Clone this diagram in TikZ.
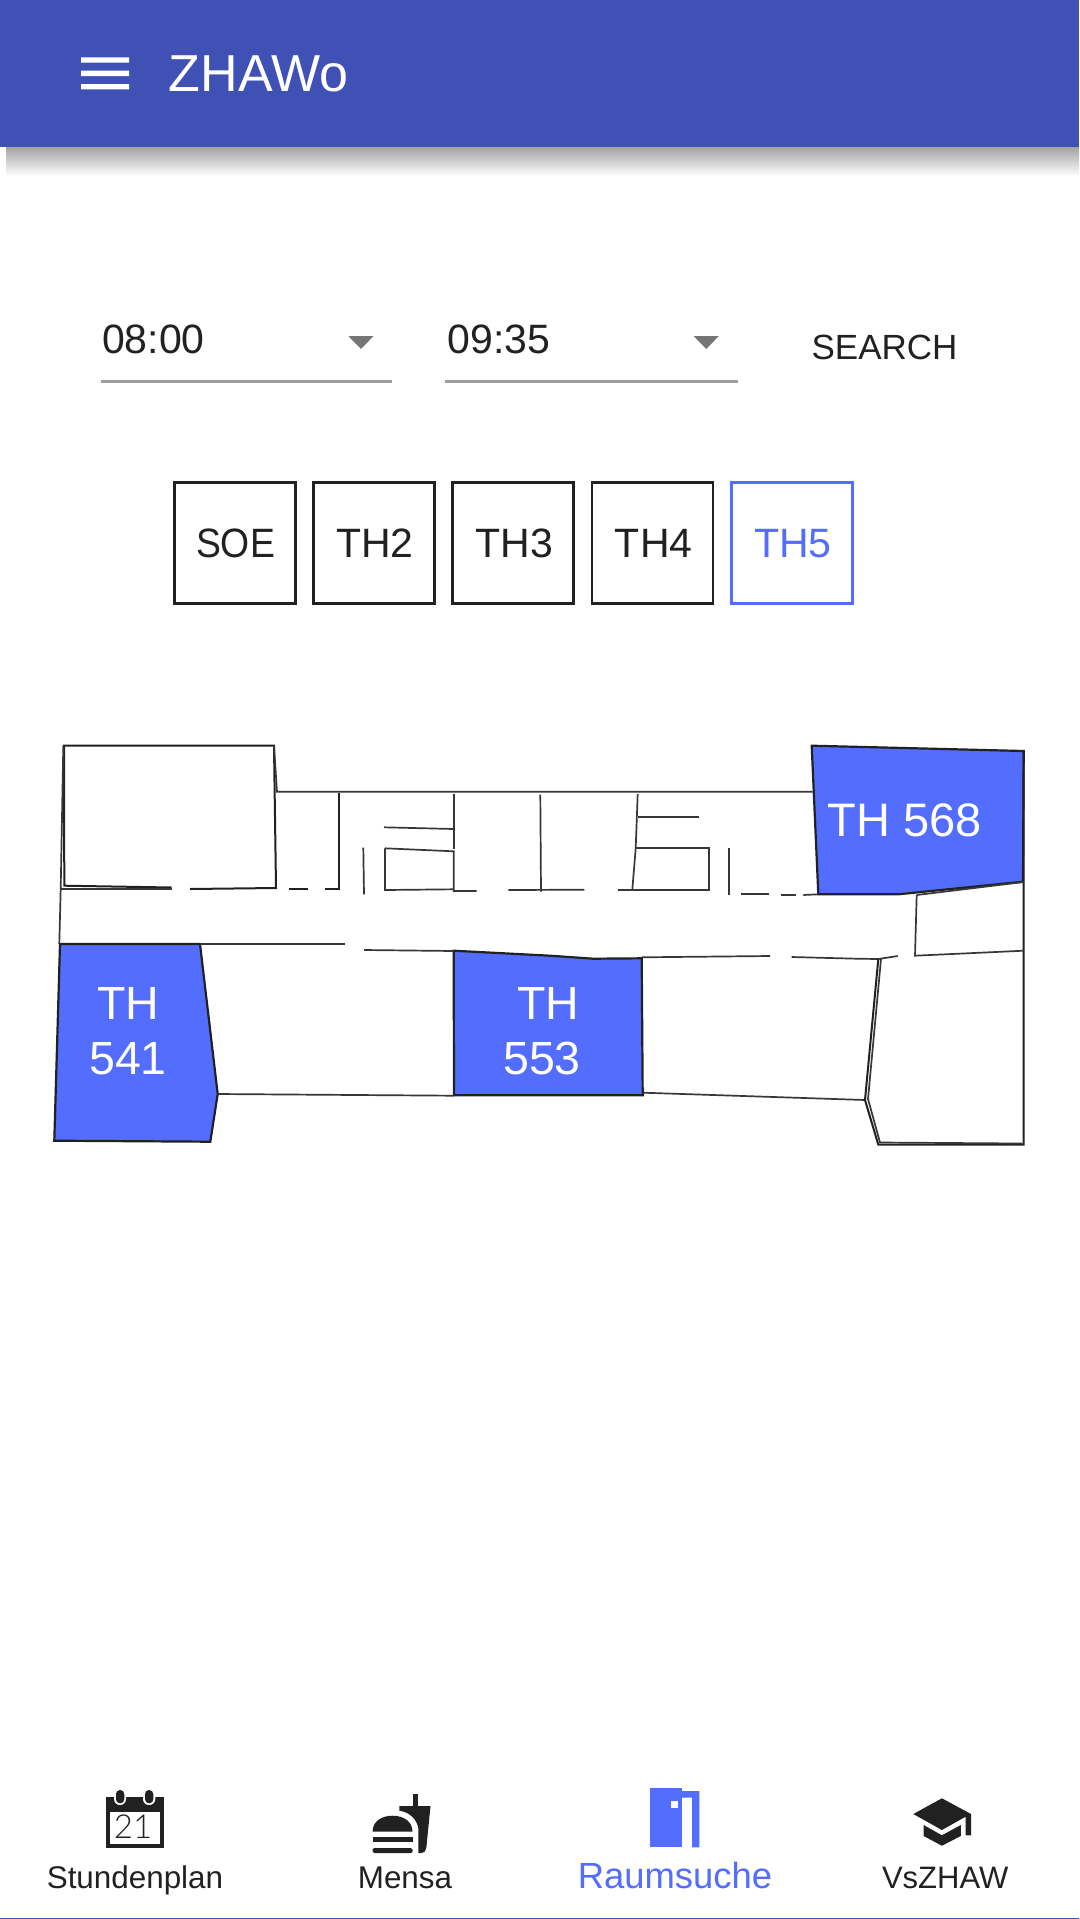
\documentclass[tikz,border=0pt]{standalone}
\usepackage{fontspec}
\setmainfont{Liberation Sans}
\newfontfamily\narrowfont[FakeStretch=0.91]{Liberation Sans}
\newfontfamily\thinfont{Lato Light}
\definecolor{bar}{HTML}{3F51B5}
\definecolor{accent}{HTML}{536DFE}
\definecolor{ink}{HTML}{212121}
\definecolor{under}{HTML}{9E9E9E}
\definecolor{caret}{HTML}{757575}
\tikzset{
  lbl/.style={font=\fontsize{#1}{#1}\selectfont, inner sep=0pt, outer sep=0pt, anchor=base, text=ink},
  tabbox/.style={draw=ink, line width=2.8pt, fill=white, minimum width=121pt, minimum height=121pt, inner sep=0pt},
  wall/.style={draw=ink, line width=2pt, line join=miter},
  thinwall/.style={draw=ink!90, line width=1.7pt},
  hit/.style={fill=accent, draw=ink, line width=2.2pt},
  whitelbl/.style={lbl=#1, text=white},
}
\begin{document}
\begin{tikzpicture}[x=1pt,y=-1pt]
\useasboundingbox (0,0) rectangle (1079,1919);
\fill[white] (0,0) rectangle (1079,1919);
% app bar
\shade[top color=black!36, middle color=black!9, bottom color=white] (6,147) rectangle (1079,176);
\fill[bar] (0,0) rectangle (1079,147);
\fill[white] (81,57.3) rectangle (129,62.7) (81,70.7) rectangle (129,76) (81,84) rectangle (129,89.3);
\node[whitelbl=52] (title) at (258.5,91.7) {ZHAWo};
% selects
\node[lbl=41] (from) at (153.5,353) {08:00};
\node[lbl=41] (to) at (499,353) {09:35};
\fill[caret] (348.3,336) -- (373.6,336) -- (361,349) -- cycle;
\fill[caret] (693.6,336) -- (718.9,336) -- (706.2,349) -- cycle;
\draw[under, line width=2.5pt] (101,381.7) -- (392.4,381.7);
\draw[under, line width=2.5pt] (445.3,381.7) -- (737.7,381.7);
\node[lbl=35] (search) at (884.5,359.5) {SEARCH};
% tabs
\node[tabbox] (soe) at (234.9,543) {};
\node[tabbox] (th2) at (374.1,543) {};
\node[tabbox] (th3) at (513.3,543) {};
\node[tabbox] (th4) at (652.5,543) {};
\node[tabbox, draw=accent] (th5) at (791.7,543) {};
\node[lbl=41, font=\fontsize{41}{41}\narrowfont] (soet) at (235.5,557.7) {SOE};
\node[lbl=41] (th2t) at (375,557.7) {TH2};
\node[lbl=41] (th3t) at (514.5,557.7) {TH3};
\node[lbl=41] (th4t) at (653.7,557.7) {TH4};
\node[lbl=41, text=accent] (th5t) at (792.9,557.7) {TH5};
% plan: highlighted rooms
\draw[hit] (60,944) -- (200,944) -- (217.7,1094) -- (210.3,1141.7) -- (54.3,1140.7) -- cycle;
\draw[hit] (453.7,950.7) -- (550,955.7) -- (593.3,958.7) -- (641.7,958.3) -- (642.7,1095.3) -- (454,1095.3) -- cycle;
\draw[hit] (811.7,745.7) -- (1023.7,751) -- (1023,881.7) -- (898.3,894.3) -- (818.3,894.3) -- cycle;
% plan: walls
\draw[wall] (190,889) -- (276,888) -- (274,745.7) -- (64,745.7) -- (64.3,885.7) -- (171.7,887.5);
\draw[thinwall] (274,745.7) -- (277,791.7) -- (812.7,791.7);
\draw[thinwall] (63.3,745.7) -- (60.7,889) -- (59.3,944);
\draw[thinwall] (60.7,889) -- (171.7,889);
\draw[wall] (289.3,889.3) -- (308.3,889.3);
\draw[wall] (325,889) -- (339.3,889) -- (339.3,792.7);
\draw[thinwall] (363.3,847.7) -- (364,894.3);
\draw[thinwall] (384,827.3) -- (453.7,829);
\draw[thinwall] (453.7,794) -- (453.7,849);
\draw[thinwall] (385,848.3) -- (453.7,851.3) -- (453.7,891) -- (476.7,891);
\draw[thinwall] (385,848.3) -- (385,890) -- (453.7,889.3);
\draw[thinwall] (508.3,890) -- (584.3,889.7);
\draw[thinwall] (540.3,794.7) -- (541,891.7);
\draw[thinwall] (637.7,794) -- (635.7,848.3) -- (632.3,889.7);
\draw[thinwall] (637.7,817) -- (699,817);
\draw[thinwall] (635.7,848.3) -- (709,848.3) -- (709,890) -- (617.7,890);
\draw[thinwall] (729,847.7) -- (729,895);
\draw[thinwall] (741,894.3) -- (769,894.3);
\draw[thinwall] (781,895) -- (795.7,895);
\draw[thinwall] (803.3,895) -- (818.3,894.3);
\draw[thinwall] (200,944) -- (345,944);
\draw[thinwall] (364,950) -- (453.7,951);
\draw[thinwall] (217.7,1094) -- (453.7,1095.7);
\draw[thinwall] (641.7,957.3) -- (770,956);
\draw[thinwall] (791.7,957) -- (856.7,958.7) -- (878.3,959) -- (897.7,956);
\draw[thinwall] (643.3,1092.7) -- (865,1100);
\draw[wall] (878.3,959) -- (865,1100) -- (878.3,1144.7) -- (1023.7,1144.7) -- (1023.7,751);
\draw[thinwall] (881,959) -- (868,1099) -- (880,1142.5) -- (1022,1143.5);
\draw[thinwall] (916.7,895) -- (1023.7,882);
\draw[thinwall] (916.7,895) -- (915,955.7) -- (1023.7,950.7);
\node[whitelbl=46.5] (r541a) at (128,1019) {TH};
\node[whitelbl=46.5] (r541b) at (128,1074) {541};
\node[whitelbl=46.5] (r553a) at (548,1019) {TH};
\node[whitelbl=46.5] (r553b) at (542,1074) {553};
\node[whitelbl=47] (r568) at (904.5,836.7) {TH 568};
% calendar icon
\fill[ink] (106,1797.3) rectangle (163.6,1848.3);
\fill[white] (110.2,1811.7) rectangle (159.6,1844.3);
\fill[white, rounded corners=6pt] (114,1786) rectangle (126,1805);
\fill[white, rounded corners=6pt] (143,1786) rectangle (155.3,1805);
\fill[white] (110,1780) rectangle (160,1797.3);
\fill[ink, rounded corners=4pt] (116,1790) rectangle (124.3,1803.3);
\fill[ink, rounded corners=4pt] (145,1790) rectangle (153.3,1803.3);
\node[lbl=33, font=\fontsize{33}{33}\thinfont] (day) at (133,1838.3) {21};
% burger icon
\fill[ink] (372.6,1831.7) .. controls (372.6,1821) and (382,1815.7) .. (392.5,1815.7) .. controls (403,1815.7) and (412.5,1821) .. (412.5,1831.7) -- cycle;
\fill[ink] (372.6,1837.3) rectangle (412.5,1842.3);
\fill[ink, rounded corners=1.5pt] (372.6,1848) -- (412.5,1848) -- (412.5,1853) -- (372.6,1853) -- cycle;
\fill[ink] (412.5,1794.3) rectangle (417.7,1806);
\fill[ink] (399.4,1806) -- (430.5,1806) -- (426.3,1848) .. controls (426,1851) and (424,1853) .. (421.5,1853) -- (418.4,1853) -- (418.4,1828.3) .. controls (417,1820) and (410,1812) .. (399.4,1810.7) -- cycle;
% door icon
\fill[accent] (649.5,1787.7) rectangle (681.9,1847.3);
\fill[accent] (681.9,1791) -- (699.4,1791) -- (699.4,1847.3) -- (692.2,1847.3) -- (692.2,1797.7) -- (681.9,1797.7) -- cycle;
\fill[white] (671.2,1801) rectangle (678,1807.7);
% cap icon
\fill[ink] (941.9,1798.3) -- (971,1814) -- (971,1835.3) -- (965.6,1835.3) -- (965.6,1816.7) -- (941.9,1830) -- (913.3,1814) -- cycle;
\fill[ink] (923.6,1825) -- (941.9,1835.3) -- (960.8,1825) -- (960.8,1836) -- (941.9,1845.7) -- (923.6,1836) -- cycle;
% nav labels
\node[lbl=31.4] (n1) at (135,1888) {Stundenplan};
\node[lbl=31.4] (n2) at (405,1888) {Mensa};
\node[lbl=36.4, text=accent] (n3) at (675,1888.3) {Raumsuche};
\node[lbl=31] (n4) at (945.2,1888) {VsZHAW};
\fill[bar] (0,1917.7) rectangle (1079,1919);
\end{tikzpicture}
\end{document}
